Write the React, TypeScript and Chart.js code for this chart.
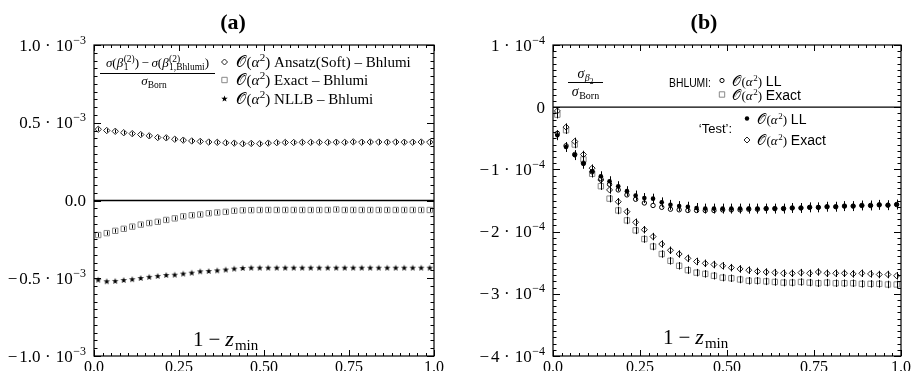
import React, { useEffect, useRef } from "react";
import { Chart, registerables } from "chart.js";
Chart.register(...registerables);

// ---------- data ----------
const xBins = [0.0125, 0.0375, 0.0625, 0.0875, 0.1125, 0.1375, 0.1625, 0.1875, 0.2125, 0.2375,
  0.2625, 0.2875, 0.3125, 0.3375, 0.3625, 0.3875, 0.4125, 0.4375, 0.4625, 0.4875,
  0.5125, 0.5375, 0.5625, 0.5875, 0.6125, 0.6375, 0.6625, 0.6875, 0.7125, 0.7375,
  0.7625, 0.7875, 0.8125, 0.8375, 0.8625, 0.8875, 0.9125, 0.9375, 0.9625, 0.9875];

// panel (a), in units of 10^-3
const ansatzSoftA = [0.458, 0.450, 0.445, 0.436, 0.430, 0.424, 0.416, 0.405, 0.403, 0.394,
  0.388, 0.383, 0.380, 0.376, 0.374, 0.371, 0.369, 0.365, 0.367, 0.365,
  0.369, 0.372, 0.373, 0.373, 0.374, 0.374, 0.374, 0.374, 0.375, 0.374,
  0.377, 0.375, 0.376, 0.376, 0.375, 0.376, 0.375, 0.375, 0.376, 0.375];
const exactA = [-0.222, -0.210, -0.195, -0.182, -0.168, -0.155, -0.145, -0.137, -0.125, -0.115,
  -0.102, -0.095, -0.090, -0.082, -0.077, -0.073, -0.066, -0.063, -0.062, -0.061,
  -0.061, -0.061, -0.061, -0.061, -0.061, -0.061, -0.061, -0.061, -0.058, -0.061,
  -0.061, -0.061, -0.061, -0.061, -0.061, -0.061, -0.061, -0.061, -0.061, -0.061];
const nllbA = [-0.509, -0.519, -0.517, -0.511, -0.506, -0.498, -0.491, -0.485, -0.479, -0.477,
  -0.470, -0.464, -0.455, -0.453, -0.449, -0.444, -0.438, -0.434, -0.432, -0.432,
  -0.432, -0.432, -0.432, -0.432, -0.432, -0.432, -0.432, -0.432, -0.432, -0.432,
  -0.432, -0.432, -0.432, -0.432, -0.432, -0.432, -0.432, -0.432, -0.432, -0.432];

// panel (b), in units of 10^-4
const testLLB = [-0.45, -0.64, -0.77, -0.91, -1.03, -1.11, -1.19, -1.27, -1.35, -1.42,
  -1.46, -1.47, -1.53, -1.57, -1.59, -1.60, -1.62, -1.63, -1.63, -1.63,
  -1.63, -1.63, -1.63, -1.63, -1.63, -1.63, -1.63, -1.62, -1.62, -1.61,
  -1.61, -1.60, -1.60, -1.59, -1.59, -1.58, -1.58, -1.57, -1.575, -1.565];
const bhlumiLLB = [-0.42, -0.62, -0.76, -0.90, -1.04, -1.15, -1.24, -1.33, -1.41, -1.48,
  -1.54, -1.58, -1.61, -1.64, -1.65, -1.66, -1.66, -1.66, -1.66, -1.65,
  -1.65, -1.65, -1.64, -1.64, -1.63, -1.63, -1.63, -1.62, -1.62, -1.61,
  -1.61, -1.60, -1.60, -1.59, -1.59, -1.58, -1.58, -1.57, -1.575, -1.565];
const testExactB = [-0.06, -0.32, -0.55, -0.76, -0.98, -1.17, -1.33, -1.52, -1.68, -1.85,
  -1.97, -2.08, -2.20, -2.30, -2.36, -2.43, -2.48, -2.51, -2.53, -2.55,
  -2.58, -2.60, -2.62, -2.64, -2.65, -2.66, -2.67, -2.67, -2.66, -2.67,
  -2.65, -2.67, -2.67, -2.67, -2.68, -2.67, -2.68, -2.69, -2.69, -2.71];
const bhlumiExactB = [-0.12, -0.37, -0.60, -0.84, -1.07, -1.27, -1.47, -1.66, -1.82, -1.98,
  -2.12, -2.24, -2.36, -2.47, -2.55, -2.62, -2.66, -2.68, -2.71, -2.74,
  -2.75, -2.77, -2.79, -2.79, -2.80, -2.81, -2.82, -2.82, -2.81, -2.82,
  -2.83, -2.82, -2.83, -2.83, -2.83, -2.84, -2.84, -2.84, -2.85, -2.85];

// error half-widths
const errAnsatzA = 0.012;
const errExactA = 0.012;
const errTestLLB = 0.08;
const errExactB = 0.06;

// ticks
const xTickValues = [0, 0.25, 0.5, 0.75, 1];
const xTickLabels = ["0.0", "0.25", "0.50", "0.75", "1.0"];
const yTickValuesA = [1, 0.5, 0, -0.5, -1];
const yTickMantA = ["1.0", "0.5", "0.0", "\u22120.5", "\u22121.0"];
const yTickExpA = ["\u22123", "\u22123", "", "\u22123", "\u22123"];
const yTickValuesB = [1, 0, -1, -2, -3, -4];
const yTickMantB = ["1", "0", "\u22121", "\u22122", "\u22123", "\u22124"];
const yTickExpB = ["\u22124", "", "\u22124", "\u22124", "\u22124", "\u22124"];

// ---------- drawing helpers ----------
const SERIF = '"Liberation Serif", "DejaVu Serif", serif';
const SANS = '"Liberation Sans", "DejaVu Sans", sans-serif';
const CAL = "\u{1D4AA}";

type Seg = { t: string; s: number; dy?: number; it?: boolean; keep?: boolean; f?: string; b?: boolean; gap?: number };

function segFont(g: Seg) {
  return `${g.it ? "italic " : ""}${g.b ? "bold " : ""}${g.s}px ${g.f || SERIF}`;
}
function richWidth(ctx: CanvasRenderingContext2D, segs: Seg[]) {
  let w = 0;
  for (const g of segs) {
    ctx.font = segFont(g);
    if (!g.keep) w += ctx.measureText(g.t).width + (g.gap || 0);
  }
  return w;
}
function drawRich(ctx: CanvasRenderingContext2D, x: number, y: number, segs: Seg[]) {
  let cx = x;
  ctx.textAlign = "left";
  ctx.textBaseline = "alphabetic";
  for (const g of segs) {
    ctx.font = segFont(g);
    ctx.fillText(g.t, cx, y + (g.dy || 0));
    if (!g.keep) cx += ctx.measureText(g.t).width + (g.gap || 0);
  }
  return cx;
}

function starPath(ctx: CanvasRenderingContext2D, x: number, y: number) {
  for (let k = 0; k < 10; k++) {
    const r = k % 2 === 0 ? 3.4 : 1.4;
    const a = -Math.PI / 2 + (k * Math.PI) / 5;
    const px = x + r * Math.cos(a), py = y + 0.3 + r * Math.sin(a);
    if (k === 0) ctx.moveTo(px, py); else ctx.lineTo(px, py);
  }
  ctx.closePath();
}

function makeStar() {
  const c = document.createElement("canvas");
  c.width = 8; c.height = 8;
  const g = c.getContext("2d")!;
  g.fillStyle = "#000";
  g.beginPath();
  starPath(g, 4, 4);
  g.fill();
  return c;
}

function marker(ctx: CanvasRenderingContext2D, kind: string, x: number, y: number) {
  ctx.save();
  ctx.lineWidth = 1;
  ctx.beginPath();
  if (kind === "diamond") {
    ctx.moveTo(x, y - 3); ctx.lineTo(x + 3, y); ctx.lineTo(x, y + 3); ctx.lineTo(x - 3, y); ctx.closePath();
    ctx.fillStyle = "#fff"; ctx.fill(); ctx.strokeStyle = "#222"; ctx.stroke();
  } else if (kind === "square") {
    ctx.rect(x - 2.7, y - 2.7, 5.4, 5.4);
    ctx.fillStyle = "#fff"; ctx.fill(); ctx.strokeStyle = "#888"; ctx.stroke();
  } else if (kind === "circle") {
    ctx.arc(x, y, 2.1, 0, Math.PI * 2);
    ctx.fillStyle = "#fff"; ctx.fill(); ctx.strokeStyle = "#000"; ctx.stroke();
  } else if (kind === "dot") {
    ctx.arc(x, y, 2.2, 0, Math.PI * 2);
    ctx.fillStyle = "#000"; ctx.fill();
  } else if (kind === "star") {
    starPath(ctx, x, y);
    ctx.fillStyle = "#000"; ctx.fill();
  }
  ctx.restore();
}

function oAlpha(size: number): Seg[] {
  return [
    { t: CAL, s: size + 1, gap: 0.5 },
    { t: "(", s: size },
    { t: "\u03B1", s: size, it: true, gap: 0.5 },
    { t: "2", s: Math.round(size * 0.7), dy: -Math.round(size * 0.42) },
    { t: ")", s: size },
  ];
}

type PanelOpts = {
  title: string;
  titleX: number;
  yTicks: number[];
  yMant: string[];
  yExp: string[];
  yMinorStep: number;
  labelX: number;
  labelY: number;
  legend: (ctx: CanvasRenderingContext2D) => void;
};

const panelPlugin = {
  id: "panel",
  beforeDatasetsDraw(chart: any) {
    const { ctx, chartArea: a, scales } = chart;
    const y0 = scales.y.getPixelForValue(0);
    ctx.save();
    ctx.strokeStyle = "#000";
    ctx.lineWidth = 1.3;
    ctx.beginPath();
    ctx.moveTo(a.left, y0);
    ctx.lineTo(a.right, y0);
    ctx.stroke();
    ctx.restore();
  },
  afterDatasetsDraw(chart: any) {
    const { ctx, scales } = chart;
    ctx.save();
    ctx.strokeStyle = "#000";
    ctx.lineWidth = 1;
    chart.data.datasets.forEach((ds: any, i: number) => {
      if (!ds.err) return;
      const meta = chart.getDatasetMeta(i);
      meta.data.forEach((el: any, j: number) => {
        const v = ds.data[j].y;
        const p1 = scales.y.getPixelForValue(v - ds.err);
        const p2 = scales.y.getPixelForValue(v + ds.err);
        ctx.beginPath();
        ctx.moveTo(Math.round(el.x) + 0.5, p1);
        ctx.lineTo(Math.round(el.x) + 0.5, p2);
        ctx.stroke();
      });
    });
    ctx.restore();
  },
  afterDraw(chart: any, _args: any, o: PanelOpts) {
    const { ctx, chartArea: a, scales } = chart;
    const xs = scales.x, ys = scales.y;
    ctx.save();
    ctx.strokeStyle = "#000";
    ctx.lineWidth = 1.2;
    ctx.strokeRect(a.left, a.top, a.right - a.left, a.bottom - a.top);
    ctx.lineWidth = 1;
    ctx.beginPath();
    for (let k = 0; k <= 40; k++) {
      const v = k * 0.025;
      const px = Math.round(xs.getPixelForValue(v)) + 0.5;
      const len = k % 10 === 0 ? 6 : 3;
      ctx.moveTo(px, a.bottom); ctx.lineTo(px, a.bottom - len);
      ctx.moveTo(px, a.top); ctx.lineTo(px, a.top + len);
    }
    const ymin = ys.min, ymax = ys.max;
    const nMinor = Math.round((ymax - ymin) / o.yMinorStep);
    const majorStep = Math.abs(o.yTicks[0] - o.yTicks[1]);
    for (let k = 0; k <= nMinor; k++) {
      const v = ymin + k * o.yMinorStep;
      const py = Math.round(ys.getPixelForValue(v)) + 0.5;
      const isMajor = Math.abs(v / majorStep - Math.round(v / majorStep)) < 1e-6;
      const len = isMajor ? 7 : 3.5;
      ctx.moveTo(a.left, py); ctx.lineTo(a.left + len, py);
      ctx.moveTo(a.right, py); ctx.lineTo(a.right - len, py);
    }
    ctx.stroke();

    // y tick labels
    ctx.fillStyle = "#000";
    o.yTicks.forEach((v, i) => {
      const py = ys.getPixelForValue(v);
      const m = o.yMant[i];
      const neg = m.startsWith("\u2212");
      const segs: Seg[] = [];
      if (neg) segs.push({ t: "\u2212", s: 17, gap: 2 });
      segs.push({ t: neg ? m.slice(1) : m, s: 17, gap: o.yExp[i] ? 4.5 : 0 });
      if (o.yExp[i]) {
        segs.push({ t: "\u00B7", s: 17, gap: 5 }, { t: "10", s: 17, gap: 0.5 }, { t: o.yExp[i], s: 12, dy: -7 });
      }
      const w = richWidth(ctx, segs);
      drawRich(ctx, a.left - 8 - w, py + 5.5, segs);
    });

    // title
    ctx.font = `bold 22px ${SERIF}`;
    ctx.textAlign = "center";
    ctx.textBaseline = "alphabetic";
    ctx.fillText(o.title, o.titleX, 29);

    // axis label inside plot: 1 - z_min
    drawRich(ctx, a.left + o.labelX, o.labelY, [
      { t: "1", s: 21, gap: 5 },
      { t: "\u2212", s: 21, gap: 5 },
      { t: "z", s: 22, it: true, gap: 1 },
      { t: "min", s: 15, dy: 4 },
    ]);

    o.legend(ctx);
    ctx.restore();
  },
};

function legendA(ctx: CanvasRenderingContext2D) {
  ctx.fillStyle = "#000";
  const S = 13, s = 9.5;
  const num: Seg[] = [
    { t: "\u03C3", s: S, it: true },
    { t: "(", s: S },
    { t: "\u03B2", s: S, it: true, gap: 0.5 },
    { t: "1", s, dy: 3, keep: true },
    { t: "(2)", s, dy: -5 },
    { t: ")", s: S, gap: 2.5 },
    { t: "\u2212", s: S, gap: 2.5 },
    { t: "\u03C3", s: S, it: true },
    { t: "(", s: S },
    { t: "\u03B2", s: S, it: true, gap: 0.5 },
    { t: "(2)", s, dy: -5, keep: true },
    { t: "1,Bhlumi", s, dy: 3 },
    { t: ")", s: S },
  ];
  const cx = 157.5;
  const nw = richWidth(ctx, num);
  drawRich(ctx, cx - nw / 2, 67, num);
  ctx.save();
  ctx.lineWidth = 1;
  ctx.strokeStyle = "#000";
  ctx.beginPath();
  ctx.moveTo(100, 73.5); ctx.lineTo(215, 73.5);
  ctx.stroke();
  ctx.restore();
  const den: Seg[] = [{ t: "\u03C3", s: S, it: true }, { t: "Born", s, dy: 3 }];
  const dw = richWidth(ctx, den);
  drawRich(ctx, 154 - dw / 2, 85, den);

  const rows: [string, string, number][] = [
    ["diamond", " Ansatz(Soft) \u2013 Bhlumi", 62],
    ["square", " Exact \u2013 Bhlumi", 80],
    ["star", " NLLB \u2013 Bhlumi", 98.5],
  ];
  rows.forEach(([k, t, y]) => {
    marker(ctx, k, 224.5, y);
    drawRich(ctx, 236, y + 5, [...oAlpha(15), { t, s: 15 }]);
  });
}

function legendB(ctx: CanvasRenderingContext2D) {
  ctx.fillStyle = "#000";
  const cx = 130.5;
  const num: Seg[] = [
    { t: "\u03C3", s: 14, it: true, gap: 0.5 },
    { t: "\u03B2", s: 10, it: true, dy: 3 },
    { t: "2", s: 7.5, dy: 6 },
  ];
  const nw = richWidth(ctx, num);
  drawRich(ctx, cx - nw / 2, 78, num);
  ctx.save();
  ctx.lineWidth = 1;
  ctx.beginPath();
  ctx.moveTo(113, 82.5); ctx.lineTo(148, 82.5);
  ctx.stroke();
  ctx.restore();
  const den: Seg[] = [{ t: "\u03C3", s: 14, it: true, gap: 0.5 }, { t: "Born", s: 10, dy: 3 }];
  const dw = richWidth(ctx, den);
  drawRich(ctx, cx - dw / 2, 96, den);

  ctx.textAlign = "right";
  ctx.textBaseline = "alphabetic";
  ctx.font = `13px ${SANS}`;
  ctx.fillText("BHLUMI:", 256, 87, 42);
  ctx.fillText("\u2018Test\u2019:", 277, 133);

  const rows: [string, string, number, number][] = [
    ["circle", " LL", 80.5, 267],
    ["square", " Exact", 94.5, 267],
    ["dot", " LL", 118.5, 292],
    ["diamond", " Exact", 140, 292],
  ];
  rows.forEach(([k, t, y, mx]) => {
    marker(ctx, k, mx, y);
    drawRich(ctx, mx + 10, y + 5, [...oAlpha(13), { t, s: 14, f: SANS }]);
  });
}

function pts(arr: number[]) {
  return xBins.map((x, i) => ({ x, y: arr[i] }));
}

function baseOptions(ymin: number, ymax: number, padding: any, panel: PanelOpts) {
  return {
    animation: false,
    responsive: false,
    maintainAspectRatio: false,
    layout: { padding },
    plugins: { legend: { display: false }, tooltip: { enabled: false }, title: { display: false }, panel },
    scales: {
      x: {
        type: "linear",
        min: 0,
        max: 1,
        grid: { display: false, drawTicks: false },
        border: { display: false },
        afterBuildTicks: (s: any) => { s.ticks = xTickValues.map((v) => ({ value: v })); },
        afterFit: (s: any) => { s.height = 15; },
        ticks: {
          autoSkip: false,
          maxRotation: 0,
          padding: 2,
          color: "#000",
          font: { family: SERIF, size: 16 },
          callback: (v: number) => xTickLabels[xTickValues.findIndex((t) => Math.abs(t - v) < 1e-9)] ?? "",
        },
      },
      y: { type: "linear", min: ymin, max: ymax, display: false },
    },
  };
}

function PanelA() {
  const ref = useRef<HTMLCanvasElement>(null);
  useEffect(() => {
    const star = makeStar();
    const chart = new Chart(ref.current!, {
      type: "scatter",
      data: {
        datasets: [
          { data: pts(nllbA), pointStyle: star, pointRadius: 4, borderWidth: 0 } as any,
          { data: pts(ansatzSoftA), pointStyle: "rectRot", pointRadius: 3.2, borderWidth: 1, borderColor: "#222", backgroundColor: "#fff", err: errAnsatzA } as any,
          { data: pts(exactA), pointStyle: "rect", pointRadius: 3.8, borderWidth: 1, borderColor: "#888", backgroundColor: "#fff", err: errExactA } as any,
        ],
      },
      options: baseOptions(-1, 1, { left: 94, right: 21, top: 45, bottom: 0 }, {
        title: "(a)",
        titleX: 233,
        yTicks: yTickValuesA,
        yMant: yTickMantA,
        yExp: yTickExpA,
        yMinorStep: 0.05,
        labelX: 99,
        labelY: 346,
        legend: legendA,
      }) as any,
      plugins: [panelPlugin as any],
    });
    return () => chart.destroy();
  }, []);
  return <canvas ref={ref} width={455} height={371} style={{ position: "absolute", left: 0, top: 0 }} />;
}

function PanelB() {
  const ref = useRef<HTMLCanvasElement>(null);
  useEffect(() => {
    const chart = new Chart(ref.current!, {
      type: "scatter",
      data: {
        datasets: [
          { data: pts(testLLB), pointStyle: "circle", pointRadius: 2.3, borderWidth: 0, backgroundColor: "#000", err: errTestLLB } as any,
          { data: pts(bhlumiLLB), pointStyle: "circle", pointRadius: 2.2, borderWidth: 1, borderColor: "#000", backgroundColor: "#fff" } as any,
          { data: pts(testExactB), pointStyle: "rectRot", pointRadius: 3, borderWidth: 1, borderColor: "#222", backgroundColor: "#fff", err: errExactB } as any,
          { data: pts(bhlumiExactB), pointStyle: "rect", pointRadius: 3.8, borderWidth: 1, borderColor: "#888", backgroundColor: "#fff", err: errExactB } as any,
        ],
      },
      options: baseOptions(-4, 1, { left: 98, right: 11, top: 45, bottom: 0 }, {
        title: "(b)",
        titleX: 249,
        yTicks: yTickValuesB,
        yMant: yTickMantB,
        yExp: yTickExpB,
        yMinorStep: 0.1,
        labelX: 110,
        labelY: 344,
        legend: legendB,
      }) as any,
      plugins: [panelPlugin as any],
    });
    return () => chart.destroy();
  }, []);
  return <canvas ref={ref} width={458} height={371} style={{ position: "absolute", left: 455, top: 0 }} />;
}

export default function App() {
  return (
    <div style={{ position: "absolute", left: 0, top: 0, width: 913, height: 371, background: "#fff" }}>
      <PanelA />
      <PanelB />
    </div>
  );
}
